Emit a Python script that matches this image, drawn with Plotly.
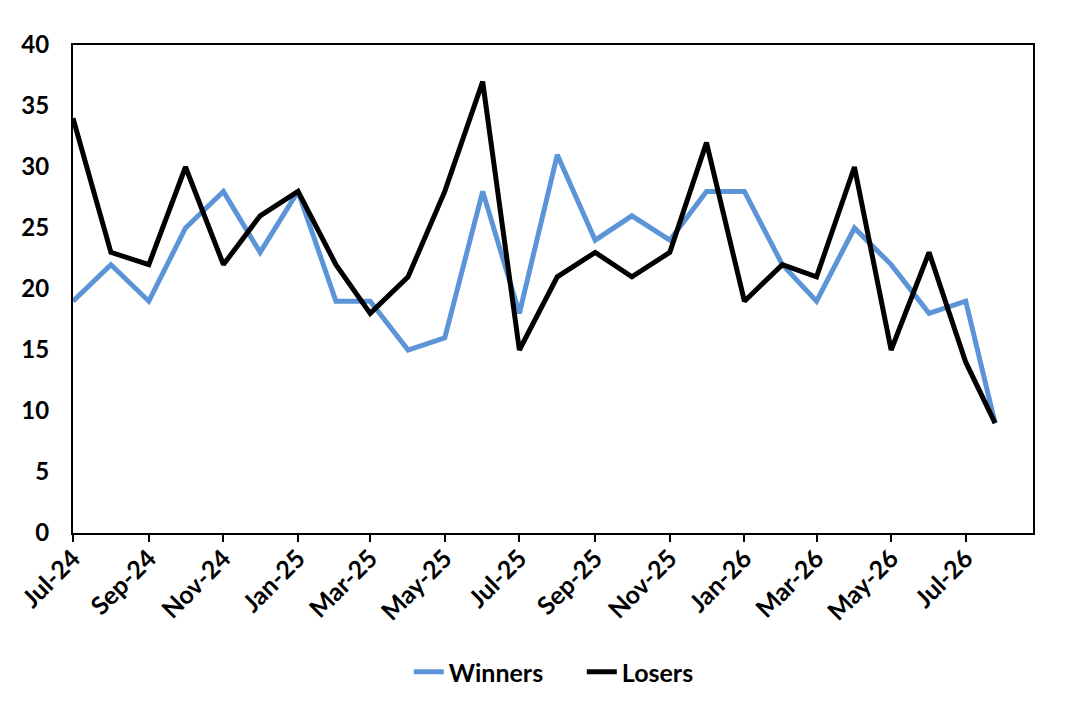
import plotly.graph_objects as go

dates = ["2024-07-01", "2024-08-01", "2024-09-01", "2024-10-01", "2024-11-01", "2024-12-01",
         "2025-01-01", "2025-02-01", "2025-03-01", "2025-04-01", "2025-05-01", "2025-06-01",
         "2025-07-01", "2025-08-01", "2025-09-01", "2025-10-01", "2025-11-01", "2025-12-01",
         "2026-01-01", "2026-02-01", "2026-03-01", "2026-04-01", "2026-05-01", "2026-06-01",
         "2026-07-01", "2026-07-25"]
winners = [19, 22, 19, 25, 28, 23, 28, 19, 19, 15, 16, 28, 18,
           31, 24, 26, 24, 28, 28, 22, 19, 25, 22, 18, 19, 9]
losers = [34, 23, 22, 30, 22, 26, 28, 22, 18, 21, 28, 37, 15,
          21, 23, 21, 23, 32, 19, 22, 21, 30, 15, 23, 14, 9]

FONT = "Lato"

fig = go.Figure()
fig.add_trace(go.Scatter(x=dates, y=winners, mode="lines", name="Winners",
                         line=dict(color="#5B95D8", width=5)))
fig.add_trace(go.Scatter(x=dates, y=losers, mode="lines", name="Losers",
                         line=dict(color="#000000", width=5)))

fig.update_layout(
    width=1080, height=701,
    margin=dict(l=65, r=55, t=37, b=176, autoexpand=False),
    paper_bgcolor="white", plot_bgcolor="white",
    font=dict(family=FONT, size=24, color="black", weight="bold"),
    showlegend=True,
    legend=dict(orientation="h", x=0.53, xanchor="center", y=-0.285, yanchor="middle",
                font=dict(family=FONT, size=25, color="black", weight="bold"),
                tracegroupgap=0, entrywidthmode="pixels", entrywidth=128),
)
fig.update_xaxes(
    type="date", range=["2024-07-01", "2026-08-25"], automargin=False,
    tick0="2024-07-01", dtick="M2", tickformat="%b-%y",
    tickangle=-45, ticks="outside", ticklen=7, tickwidth=1.5, tickcolor="black",
    ticklabelstandoff=-8,
    showline=True, linecolor="black", linewidth=2, mirror=True,
    showgrid=False, zeroline=False,
    tickfont=dict(family=FONT, size=25, color="black", weight="bold"),
)
fig.update_yaxes(
    range=[0, 40], dtick=5, automargin=False,
    ticks="outside", ticklen=17, tickcolor="rgba(0,0,0,0)",
    showline=True, linecolor="black", linewidth=2, mirror=True,
    showgrid=False, zeroline=False,
    tickfont=dict(family=FONT, size=24, color="black", weight="bold"),
)

fig.write_html("out.html")
